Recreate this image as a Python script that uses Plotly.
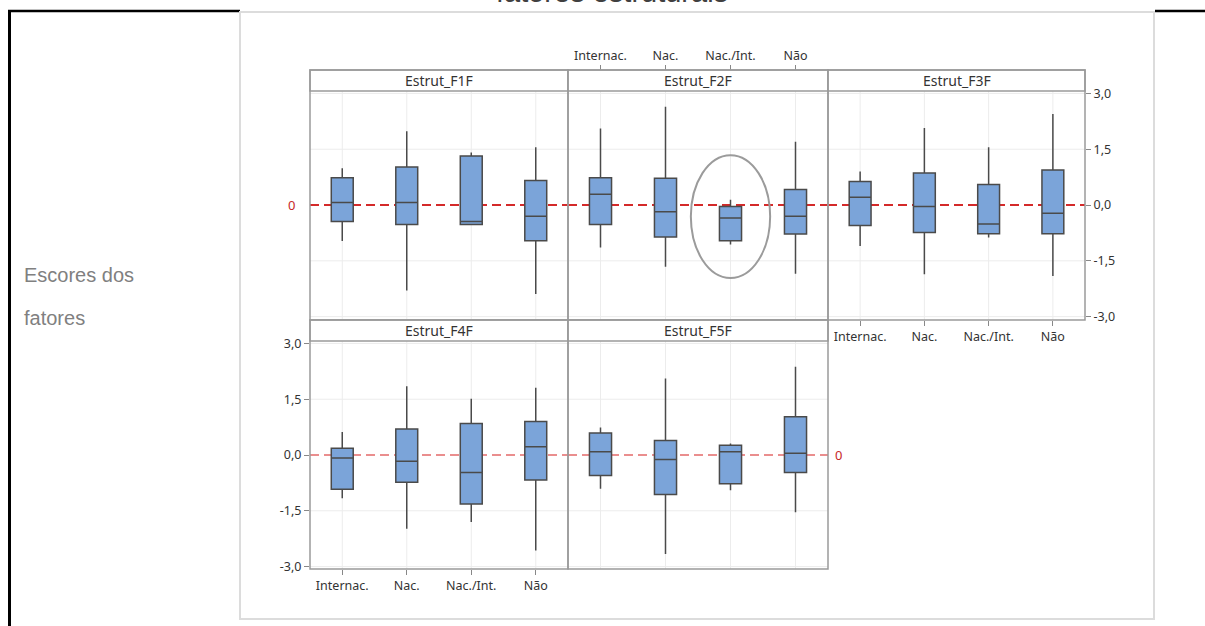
import plotly.graph_objects as go

W, H = 1205, 626


def px(x):
    return x / W


def py(y):
    return 1 - y / H


# ---- data -------------------------------------------------------------
categories = ["Internac.", "Nac.", "Nac./Int.", "Não"]
panel_names = ["Estrut_F1F", "Estrut_F2F", "Estrut_F3F", "Estrut_F4F", "Estrut_F5F"]

# box summaries per factor: lower whisker, Q1, median, Q3, upper whisker
f1_low = [-0.97, -2.30, -0.52, -2.39]
f1_q1 = [-0.44, -0.52, -0.52, -0.96]
f1_med = [0.07, 0.07, -0.44, -0.30]
f1_q3 = [0.73, 1.02, 1.32, 0.66]
f1_high = [0.99, 1.98, 1.41, 1.55]

f2_low = [-1.14, -1.66, -1.06, -1.85]
f2_q1 = [-0.52, -0.86, -0.96, -0.78]
f2_med = [0.29, -0.18, -0.35, -0.30]
f2_q3 = [0.73, 0.72, -0.04, 0.42]
f2_high = [2.06, 2.64, 0.14, 1.70]

f3_low = [-1.10, -1.86, -0.87, -1.91]
f3_q1 = [-0.55, -0.74, -0.77, -0.77]
f3_med = [0.21, -0.04, -0.51, -0.22]
f3_q3 = [0.63, 0.86, 0.55, 0.94]
f3_high = [0.90, 2.07, 1.55, 2.45]

f4_low = [-1.16, -1.98, -1.80, -2.57]
f4_q1 = [-0.92, -0.73, -1.32, -0.67]
f4_med = [-0.08, -0.17, -0.47, 0.22]
f4_q3 = [0.18, 0.70, 0.85, 0.90]
f4_high = [0.62, 1.85, 1.51, 1.81]

f5_low = [-0.91, -2.66, -0.95, -1.54]
f5_q1 = [-0.55, -1.06, -0.77, -0.47]
f5_med = [0.09, -0.12, 0.09, 0.05]
f5_q3 = [0.59, 0.39, 0.26, 1.03]
f5_high = [0.74, 2.06, 0.31, 2.37]

y_tickvals = [-3.0, -1.5, 0.0, 1.5, 3.0]
y_ticktext = ["-3,0", "-1,5", "0,0", "1,5", "3,0"]
reference_value = 0

# ---- layout geometry (pixels) ----------------------------------------
col_x = [310, 568, 828, 1085]
rows = {
    "top": dict(head=70, top=91, bottom=320, yrange=[-3.09, 3.065]),
    "bottom": dict(head=320, top=341, bottom=569, yrange=[-3.065, 3.065]),
}
panels = [
    dict(name=panel_names[0], col=0, row="top", s=(f1_low, f1_q1, f1_med, f1_q3, f1_high)),
    dict(name=panel_names[1], col=1, row="top", s=(f2_low, f2_q1, f2_med, f2_q3, f2_high)),
    dict(name=panel_names[2], col=2, row="top", s=(f3_low, f3_q1, f3_med, f3_q3, f3_high)),
    dict(name=panel_names[3], col=0, row="bottom", s=(f4_low, f4_q1, f4_med, f4_q3, f4_high)),
    dict(name=panel_names[4], col=1, row="bottom", s=(f5_low, f5_q1, f5_med, f5_q3, f5_high)),
]

FONT = "Noto Sans"
TICK_FONT = dict(family=FONT, size=12.5, color="#333333")
GRID = "#ececec"
BORDER = "#9a9a9a"
BOX_FILL = "#7ba4d9"
BOX_LINE = "#4a4a4a"

fig = go.Figure()
layout_axes = {}
shapes = []
annotations = []

# document frame and chart image border
shapes += [
    dict(type="line", xref="paper", yref="paper", x0=px(8), x1=px(240), y0=py(11), y1=py(11),
         line=dict(color="black", width=2.5), layer="below"),
    dict(type="line", xref="paper", yref="paper", x0=px(1155), x1=px(1205), y0=py(11), y1=py(11),
         line=dict(color="black", width=2.5), layer="below"),
    dict(type="line", xref="paper", yref="paper", x0=px(9.5), x1=px(9.5), y0=py(10), y1=py(626),
         line=dict(color="black", width=3), layer="below"),
    dict(type="rect", xref="paper", yref="paper", x0=px(240), x1=px(1154), y0=py(12), y1=py(619),
         line=dict(color="#dcdcdc", width=2), fillcolor="white", layer="below"),
]

for i, p in enumerate(panels, start=1):
    r = rows[p["row"]]
    xa = "xaxis" if i == 1 else f"xaxis{i}"
    ya = "yaxis" if i == 1 else f"yaxis{i}"
    xr = "x" if i == 1 else f"x{i}"
    yr = "y" if i == 1 else f"y{i}"
    x0, x1 = col_x[p["col"]], col_x[p["col"] + 1]

    xaxis = dict(domain=[px(x0), px(x1)], anchor=yr, type="category",
                 categoryorder="array", categoryarray=categories,
                 range=[-0.5, 3.5], showgrid=False,
                 zeroline=False, showline=False, showticklabels=False, ticks="",
                 tickfont=TICK_FONT, fixedrange=True)
    yaxis = dict(domain=[py(r["bottom"]), py(r["top"])], anchor=xr, range=r["yrange"],
                 tickvals=y_tickvals, ticktext=y_ticktext, showgrid=False,
                 zeroline=False, showline=False, showticklabels=False, ticks="",
                 tickfont=TICK_FONT, fixedrange=True)

    if i == 2:   # category labels above the header strip
        xaxis.update(anchor="free", position=py(r["head"]), side="top", showticklabels=True,
                     ticks="outside", ticklen=5, tickcolor="#888888")
    if i in (3, 4):
        xaxis.update(showticklabels=True, ticks="outside", ticklen=5, tickcolor="#888888")
    if i == 3:
        yaxis.update(side="right", showticklabels=True, ticks="outside", ticklen=5,
                     tickcolor="#888888")
    if i == 4:
        yaxis.update(side="left", showticklabels=True, ticks="outside", ticklen=5,
                     tickcolor="#888888")

    layout_axes[xa] = xaxis
    layout_axes[ya] = yaxis

    low, q1, med, q3, high = p["s"]
    fig.add_trace(go.Box(
        x=categories, lowerfence=low, q1=q1, median=med, q3=q3, upperfence=high,
        xaxis=xr, yaxis=yr, width=0.34, whiskerwidth=0, boxpoints=False,
        fillcolor=BOX_FILL, line=dict(color=BOX_LINE, width=1.5),
        showlegend=False, hoverinfo="skip",
    ))

    # light grid behind everything
    for k in range(len(categories)):
        shapes.append(dict(type="line", xref=xr, yref=f"{yr} domain", x0=k, x1=k, y0=0, y1=1,
                           line=dict(color=GRID, width=1), layer="below"))
    for v in y_tickvals:
        if v == reference_value:
            continue
        shapes.append(dict(type="line", xref=f"{xr} domain", yref=yr, x0=0, x1=1, y0=v, y1=v,
                           line=dict(color=GRID, width=1), layer="below"))

    # reference line at zero, behind the boxes
    red = "#d42a2a" if p["row"] == "top" else "#e36a6a"
    shapes.append(dict(type="line", xref=f"{xr} domain", yref=yr, x0=0, x1=1,
                       y0=reference_value, y1=reference_value, layer="below",
                       line=dict(color=red, width=2 if p["row"] == "top" else 1.5,
                                 dash="9px,5px")))

    # header strip and panel frame
    shapes.append(dict(type="rect", xref="paper", yref="paper", x0=px(x0), x1=px(x1),
                       y0=py(r["top"]), y1=py(r["head"]), fillcolor="white",
                       line=dict(color=BORDER, width=1.5), layer="above"))
    shapes.append(dict(type="rect", xref="paper", yref="paper", x0=px(x0), x1=px(x1),
                       y0=py(r["bottom"]), y1=py(r["head"]),
                       line=dict(color=BORDER, width=1.5), layer="above"))
    annotations.append(dict(text=p["name"], xref="paper", yref="paper",
                            x=px((x0 + x1) / 2), y=py((r["head"] + r["top"]) / 2),
                            xanchor="center", yanchor="middle", showarrow=False,
                            font=dict(family=FONT, size=14, color="#333333")))

# highlighted group in Estrut_F2F
shapes.append(dict(type="circle", xref="x2", yref="y2", x0=1.39, x1=2.61, y0=-1.96, y1=1.34,
                   line=dict(color="#9b9b9b", width=2), layer="above"))

# value labels of the reference line
annotations += [
    dict(text="0", xref="paper", yref="y", x=px(297), y=reference_value, xanchor="right",
         yanchor="middle", showarrow=False, font=dict(family=FONT, size=13, color="#c62828")),
    dict(text="0", xref="paper", yref="y5", x=px(833), y=reference_value, xanchor="left",
         yanchor="middle", showarrow=False, font=dict(family=FONT, size=13, color="#c62828")),
]

# side caption and heading
annotations += [
    dict(text="Escores dos", xref="paper", yref="paper", x=px(22), y=py(275),
         xanchor="left", yanchor="middle", showarrow=False,
         font=dict(family="Liberation Sans", size=20, color="#808080")),
    dict(text="fatores", xref="paper", yref="paper", x=px(22), y=py(318),
         xanchor="left", yanchor="middle", showarrow=False,
         font=dict(family="Liberation Sans", size=20, color="#808080")),
    dict(text="fatores estruturais", xref="paper", yref="paper", x=px(612), y=py(-8),
         xanchor="center", yanchor="middle", showarrow=False,
         font=dict(family="Liberation Sans", size=29, color="#404040")),
]

fig.update_layout(
    width=W, height=H, margin=dict(l=0, r=0, t=0, b=0, autoexpand=False),
    paper_bgcolor="white", plot_bgcolor="rgba(0,0,0,0)",
    shapes=shapes, annotations=annotations, showlegend=False,
    **layout_axes,
)

fig.write_html("out.html", config={"displayModeBar": False})
